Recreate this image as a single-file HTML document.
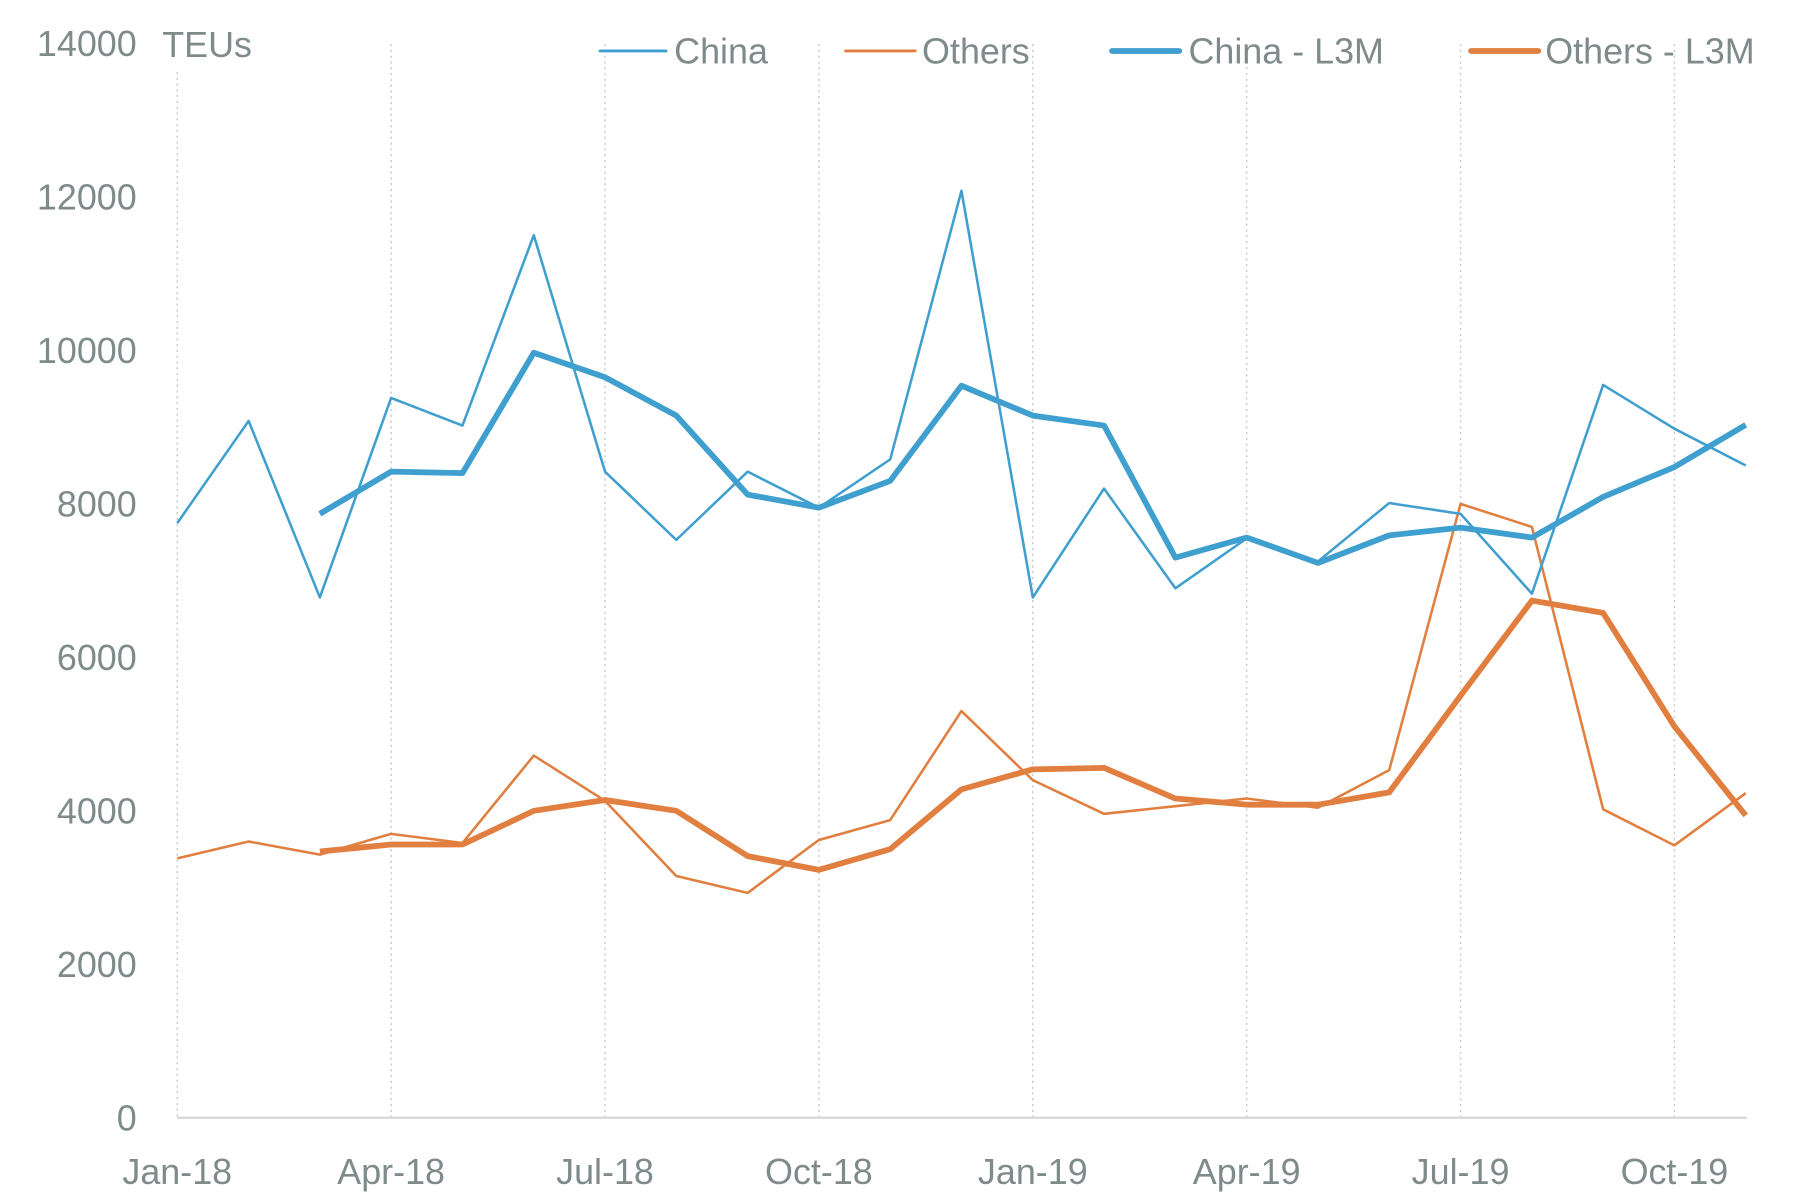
<!DOCTYPE html>
<html><head><meta charset="utf-8"><style>
html,body{margin:0;padding:0;background:#fff;}
svg{display:block;}
text{font-family:"Liberation Sans",sans-serif;fill:#7f8b8b;}
</style></head><body>
<svg id="s" width="1814" height="1200" viewBox="0 0 1566 1036" xmlns="http://www.w3.org/2000/svg"></svg>
<script>
const s=document.getElementById('s');
const NS='http://www.w3.org/2000/svg';
function el(t,a,txt){const e=document.createElementNS(NS,t);for(const k in a)e.setAttribute(k,a[k]);if(txt!==undefined)e.textContent=txt;s.appendChild(e);return e;}
const x0=153,dx=61.55,y0=965,py=132.5/2000;
const X=i=>x0+i*dx, Y=v=>y0-v*py;
const q=['Jan-18','Apr-18','Jul-18','Oct-18','Jan-19','Apr-19','Jul-19','Oct-19'];
q.forEach((l,k)=>{const x=X(k*3);
 if(k>0) el('line',{x1:x,y1:38,x2:x,y2:y0,stroke:'#cfcfcf','stroke-width':1.3,'stroke-dasharray':'2 3'});
 el('text',{x:x,y:1022,'font-size':31,'text-anchor':'middle'},l);});
el('line',{x1:x0,y1:62,x2:x0,y2:y0,stroke:'#cfcfcf','stroke-width':1.3,'stroke-dasharray':'2 3'});
el('line',{x1:x0,y1:y0,x2:1508,y2:y0,stroke:'#d6d6d6','stroke-width':2});
for(let v=0;v<=14000;v+=2000){el('text',{x:118,y:Y(v)+11,'font-size':31,'text-anchor':'end'},v);}
el('text',{x:140,y:49,'font-size':31},'TEUs');
const china=[7750,9080,6780,9380,9020,11500,8420,7530,8420,7950,8580,12080,6780,8200,6900,7550,7250,8010,7870,6830,9550,8980,8500];
const oth=[3380,3600,3430,3700,3580,4720,4130,3150,2930,3620,3880,5300,4400,3960,4060,4160,4040,4530,8000,7700,4020,3550,4230];
const cl=[7870,8420,8400,9970,9650,9150,8120,7950,8300,9540,9150,9020,7300,7560,7230,7590,7690,7560,8090,8480,9030];
const ol=[3470,3560,3560,4000,4140,4000,3410,3230,3500,4280,4540,4560,4160,4080,4080,4240,5500,6740,6580,5100,3940];
function line(d,off,c,w){el('polyline',{points:d.map((v,i)=>X(i+off).toFixed(1)+','+Y(v).toFixed(1)).join(' '),fill:'none',stroke:c,'stroke-width':w,'stroke-linejoin':'round'});}
const B='#3f9fcf',O='#e07f3f';
line(oth,0,O,2.2);line(china,0,B,2.2);line(ol,2,O,5);line(cl,2,B,5);
function leg(x1,x2,c,w,tx,label){el('line',{x1:x1,y1:44,x2:x2,y2:44,stroke:c,'stroke-width':w,'stroke-linecap':'round'});el('text',{x:tx,y:55,'font-size':31},label);}
leg(518,575,B,2.5,582,'China');
leg(730,790,O,2.5,796,'Others');
leg(960,1018,B,5,1026,'China - L3M');
leg(1270,1328,O,5,1334,'Others - L3M');
</script>
</body></html>
